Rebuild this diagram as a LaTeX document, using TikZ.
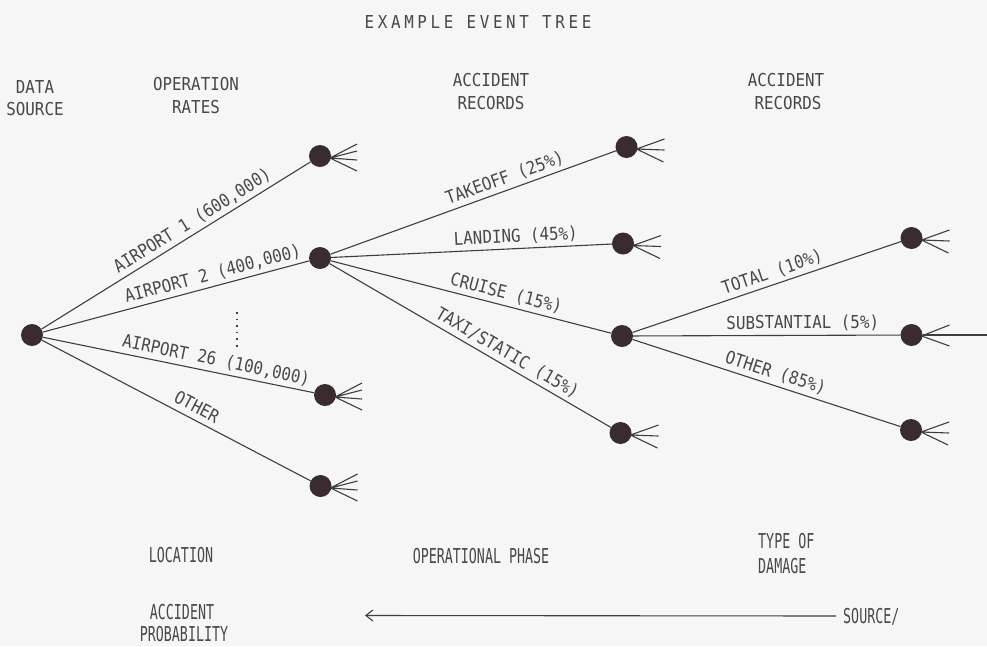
\documentclass[tikz,border=0pt]{standalone}
\usepackage{fontspec}
\usetikzlibrary{arrows.meta}
\newfontfamily\plotfont{DejaVu Sans Mono}[FakeStretch=0.89]
\newfontfamily\titlefont{DejaVu Sans Mono}[FakeStretch=0.89,LetterSpace=20.6]
\newfontfamily\narrowfont{DejaVu Sans Mono}[FakeStretch=0.65]
\definecolor{bgc}{RGB}{246,246,246}
\definecolor{inkc}{RGB}{62,62,62}
\definecolor{txtc}{RGB}{72,72,72}
\definecolor{dotc}{RGB}{58,44,46}
\begin{document}
\begin{tikzpicture}[x=1pt,y=-1pt,
  ev/.style={circle,fill=dotc,minimum size=22pt,inner sep=0pt},
  br/.style={draw=inkc,line width=1.1pt},
  lbl/.style={font=\plotfont\fontsize{17.8}{20}\selectfont,text=txtc,sloped,above,inner sep=3pt,text height=13pt,text depth=3pt},
  hdr/.style={font=\plotfont\fontsize{17.8}{20}\selectfont,text=txtc,inner sep=0pt,text height=13pt,text depth=0pt},
  ftr/.style={font=\narrowfont\fontsize{20.5}{24}\selectfont,text=txtc,inner sep=0pt,text height=15pt,text depth=0pt},
  fanfour/.style={br,shift={(#1)}},
]
\fill[bgc] (0,0) rectangle (987,646);
\useasboundingbox (0,0) rectangle (987,646);

% title
\node[font=\titlefont\fontsize{17.8}{20}\selectfont,text=txtc,inner sep=0pt,text height=13pt,text depth=0pt] (title) at (478,21.5) {EXAMPLE EVENT TREE};

% headers
\node[hdr] (h1a) at (35,86.7) {DATA};
\node[hdr] (h1b) at (35,109) {SOURCE};
\node[hdr] (h2a) at (196,84) {OPERATION};
\node[hdr] (h2b) at (196,107) {RATES};
\node[hdr] (h3a) at (491,80) {ACCIDENT};
\node[hdr] (h3b) at (491,103) {RECORDS};
\node[hdr] (h4a) at (786,80) {ACCIDENT};
\node[hdr] (h4b) at (788,103) {RECORDS};

% event nodes
\node[ev] (R) at (32,335) {};
\node[ev] (A1) at (320,156) {};
\node[ev] (A2) at (320,258) {};
\node[ev] (A26) at (325,395) {};
\node[ev] (AO) at (320.5,486) {};
\node[ev] (T) at (626.5,147) {};
\node[ev] (L) at (623,243.5) {};
\node[ev] (C) at (622,336) {};
\node[ev] (X) at (620.5,433) {};
\node[ev] (TOT) at (911.5,238) {};
\node[ev] (SUB) at (911.5,335) {};
\node[ev] (OTH) at (911,430) {};

% branches
\draw[br] (R) -- node[lbl,pos=0.585]{AIRPORT 1 (600,000)} (A1);
\draw[br] (R) -- node[lbl,pos=0.65]{AIRPORT 2 (400,000)} (A2);
\draw[br] (R) -- node[lbl,pos=0.63]{AIRPORT 26 (100,000)} (A26);
\draw[br] (R) -- node[lbl,pos=0.555]{OTHER} (AO);
\draw[br] (A2) -- node[lbl,pos=0.625]{TAKEOFF (25\%)} (T);
\draw[br] (A2) -- node[lbl,pos=0.66]{LANDING (45\%)} (L);
\draw[br] (A2) -- node[lbl,pos=0.615]{CRUISE (15\%)} (C);
\draw[br] (A2) -- node[lbl,pos=0.61]{TAXI/STATIC (15\%)} (X);
\draw[br] (C) -- node[lbl,pos=0.535]{TOTAL (10\%)} (TOT);
\draw[br] (C) -- node[lbl,pos=0.635]{SUBSTANTIAL (5\%)} (SUB);
\draw[br] (C) -- node[lbl,pos=0.52]{OTHER (85\%)} (OTH);

% vertical ellipsis
\draw[inkc,line width=1.6pt,dash pattern=on 1.6pt off 5pt] (237,312) -- (237,347);

% fans with four prongs
\foreach \n in {A1,A26,AO}{
  \draw[fanfour=\n.center] (10,2) -- (37,-12) (10,2) -- (37,-5) (10,2) -- (37,4) (10,2) -- (37,15);
}
% fans with three prongs
\foreach \n in {T,L,X,TOT,OTH}{
  \draw[fanfour=\n.center] (10,2) -- (38,-8) (10,2) -- (38,3) (10,2) -- (37,15);
}
\draw[fanfour=SUB.center] (10,1) -- (38,-10) (10,1) -- (38,11);
\coordinate (edgeR) at (987,335);
\draw[br] (SUB) -- (edgeR);

% footer
\node[ftr] (f1) at (181,555) {LOCATION};
\node[ftr] (f2) at (481,556) {OPERATIONAL PHASE};
\node[ftr,anchor=west] (f3a) at (758,541) {TYPE OF};
\node[ftr,anchor=west] (f3b) at (758,566) {DAMAGE};
\node[ftr] (f4a) at (182,612) {ACCIDENT};
\node[ftr] (f4b) at (184,634) {PROBABILITY};
\node[ftr,anchor=west] (src) at (843,616) {SOURCE/};
\coordinate (arrEnd) at (365,615.5);
\draw[br,shorten <=7pt,-{Straight Barb[length=7pt,width=11pt]}] (src.west) -- (arrEnd);
\end{tikzpicture}
\end{document}
